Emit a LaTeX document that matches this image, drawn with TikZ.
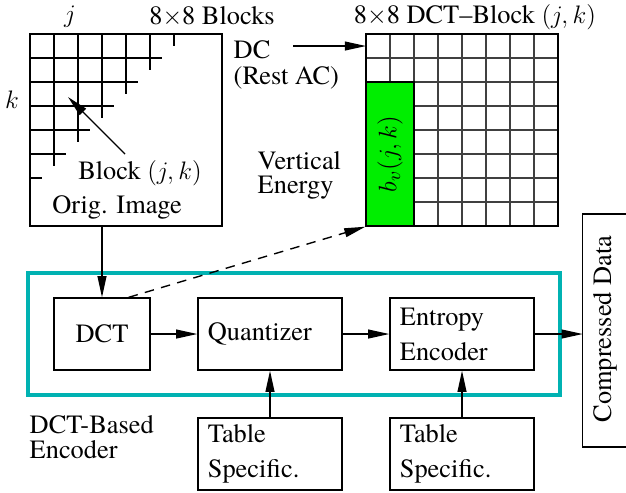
\documentclass[tikz,border=0pt]{standalone}
\usepackage{fontspec}
\setmainfont{texgyretermes}[Extension=.otf,UprightFont=*-regular,ItalicFont=*-italic,BoldFont=*-bold,BoldItalicFont=*-bolditalic,Ligatures=TeX]
\usetikzlibrary{arrows.meta}
\definecolor{encteal}{RGB}{0,178,178}
\definecolor{vgreen}{RGB}{0,238,0}
\tikzset{
	box/.style={draw,line width=.65pt,inner sep=0pt,minimum height=1.2cm},
	stage/.style={box,minimum width=2.4cm,text width=2.07cm,align=left},
	txt/.style={inner sep=0pt,align=left},
	lab/.style={inner sep=0pt},
}
\begin{document}
\begin{tikzpicture}[x=.4cm,y=.4cm,>={Triangle[length=10pt,width=4.2pt]},line width=.65pt,font=\fontsize{12.5}{13}\selectfont]
	\useasboundingbox (-1.25,1.417) rectangle (24.833,-19.083);
	% original image and its 8x8 blocks
	\node[box,minimum size=3.2cm] (img) at (4,-4) {};
	\draw (1,0)--(1,-5.5);
	\draw (2,0)--(2,-4.5);
	\draw (3,0)--(3,-3.5);
	\draw (4,0)--(4,-2.5);
	\draw (5,0)--(5,-1.5);
	\draw (6,0)--(6,-.5);
	\draw (0,-1)--(5.5,-1);
	\draw (0,-2)--(4.5,-2);
	\draw (0,-3)--(3.5,-3);
	\draw (0,-4)--(2.5,-4);
	\draw (0,-5)--(1.5,-5);
	\draw (0,-6)--(.5,-6);
	\node[lab] (j) at (1.667,.72) {$j$};
	\node[lab] (k) at (-.75,-2.75) {$k$};
	\node[lab] (blocks) at (7.583,.72) {8$\times$8 Blocks};
	\node[lab] (blklab) at (4.583,-5.79) {Block $(j,k)$};
	\node[lab] (imglab) at (3.625,-7.21) {Orig. Image};
	\coordinate (blkfrom) at (3.958,-5);
	\coordinate (blkto) at (1.583,-2.625);
	\draw[->] (blkfrom)--(blkto);
	% the DCT block
	\draw[black!75,step=1] (14,0) grid (22,-8);
	\filldraw[fill=vgreen] (14,-2) rectangle (16,-8);
	\node[box,minimum size=3.2cm] (dctblk) at (18,-4) {};
	\node[lab,rotate=90] (bv) at (15,-5) {$b_v(j,k)$};
	\node[lab] (dcttitle) at (18.54,.72) {8$\times$8 DCT--Block $(j,k)$};
	\node[txt,anchor=west,font=\fontsize{12.5}{12.3}\selectfont] (dc) at (8.46,-1.27) {DC\\(Rest AC)};
	\coordinate (dcfrom) at (10.96,-.5);
	\coordinate (dcto) at (14,-.5);
	\draw[->] (dcfrom)--(dcto);
	\node[txt,anchor=west,font=\fontsize{12.5}{11.5}\selectfont] (venergy) at (9.46,-5.875) {Vertical\\Energy};
	% encoder
	\node[draw=encteal,line width=2pt,minimum width=8.867cm,minimum height=2.033cm] (enc) at (11,-12.5) {};
	\node[box,minimum width=1.6cm] (dct) at (3,-12.5) {DCT};
	\node[stage] (quant) at (10,-12.5) {Quantizer};
	\node[stage,font=\fontsize{12.5}{16.5}\selectfont] (entropy) at (18,-12.5) {Entropy\\Encoder};
	\node[stage,font=\fontsize{12.5}{16.5}\selectfont] (qtab) at (10,-17.5) {Table\\Specific.};
	\node[stage,font=\fontsize{12.5}{16.5}\selectfont] (etab) at (18,-17.5) {Table\\Specific.};
	\node[txt,anchor=west,font=\fontsize{12.5}{12}\selectfont] (enclab) at (-.04,-16.8) {DCT-Based\\Encoder};
	\draw (24.833,-7.5) -| (23.03,-17.2) -- (24.833,-17.2);
	\coordinate (cin) at (23.03,-12.5);
	\node[lab,rotate=90] (cdata) at (23.96,-12.29) {Compressed Data};
	\draw[->] (img.south -| dct.north)--(dct.north);
	\draw[->,dash pattern=on 4.5pt off 3.5pt] (dct.54)--(dctblk.south west);
	\draw[->] (dct)--(quant);
	\draw[->] (quant)--(entropy);
	\draw[->] (entropy)--(cin);
	\draw[->] (qtab)--(quant);
	\draw[->] (etab)--(entropy);
\end{tikzpicture}
\end{document}
